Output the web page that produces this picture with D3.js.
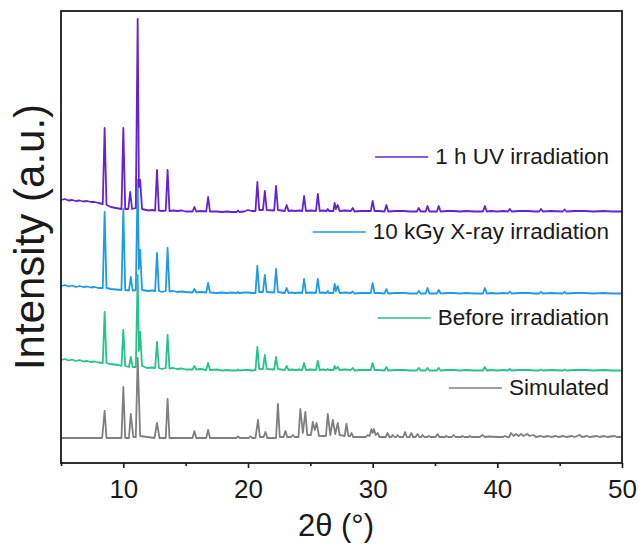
<!DOCTYPE html>
<html>
<head>
<meta charset="utf-8">
<script src="https://cdn.jsdelivr.net/npm/d3@7/dist/d3.min.js"></script>
<style>
  body { margin: 0; background: #fff; }
  svg { display: block; font-family: Arial, 'Liberation Sans', sans-serif; }
  .frame { fill: none; stroke: #1a1a1a; stroke-width: 1.8; }
  .axis path { display: none; }
  .axis line { stroke: #1a1a1a; stroke-width: 1.6; }
  .axis text { font-size: 26px; fill: #1a1a1a; font-family: Arial, 'Liberation Sans', sans-serif; }
  .trace { fill: none; stroke-width: 1.8; stroke-linejoin: round; }
  .legend-text { font-size: 22.5px; fill: #1a1a1a; }
  .axis-title { font-size: 31px; fill: #1a1a1a; }
  .axis-title-y { font-size: 42px; fill: #1a1a1a; }
</style>
</head>
<body>
<div id="chart"></div>
<script>
// series, bottom to top
const seriesNames = ['Simulated', 'Before irradiation', '10 kGy X-ray irradiation', '1 h UV irradiation']
const seriesColors = ['#7f7f7f', '#25c28c', '#1f9be6', '#6423d3']
const seriesOffsets = [25, 92, 169, 251]
const xTicksMajor = [10, 20, 30, 40, 50]
const xTicksMinor = [5, 15, 25, 35, 45]

// [2θ, intensity above the trace offset]
const simulated = [[5,0],[8.3,0],[8.5,27],[8.65,0],[9.85,0],[10.0,51],[10.15,0],[10.45,0],[10.6,24],[10.8,1],[11.0,1],[11.15,80],[11.35,2],[12.5,0],[12.7,15],[12.9,0],[13.4,0],[13.55,39],[13.7,0],[15.55,0],[15.7,7],[15.85,0],[16.65,0],[16.8,8],[16.95,0],[19.05,0],[19.2,1.5],[19.35,0],[20.05,0],[20.2,1.5],[20.35,0],[20.6,0],[20.8,18],[20.95,1],[21.25,1],[21.4,6],[21.55,0],[22.25,0],[22.4,34],[22.55,1],[22.85,1],[23.0,7],[23.15,1],[23.45,1],[23.6,3],[23.75,1],[24.05,1],[24.2,29],[24.4,5],[24.6,26],[24.75,3],[25.05,3],[25.2,16],[25.35,8],[25.5,15],[25.7,2],[26.25,2],[26.4,24],[26.6,3],[26.8,18],[27.0,4],[27.2,15],[27.35,3],[27.75,2],[27.9,14],[28.05,2],[28.2,2],[28.3,5],[28.45,1],[29.45,1],[29.6,3],[29.75,2],[29.9,9],[30.0,5],[30.1,9],[30.25,3],[30.4,5],[30.55,1],[31.05,1],[31.2,5],[31.35,1],[31.5,1],[31.6,3],[31.75,1],[31.9,1],[32.0,3],[32.15,1],[32.45,1],[32.6,6],[32.75,1],[32.95,1],[33.1,5],[33.25,1],[33.45,1],[33.6,4],[33.75,1],[33.9,1],[34.0,3],[34.15,1],[34.4,1],[34.5,2],[34.65,1],[35.05,1],[35.2,4],[35.35,1],[35.8,1],[35.9,2],[36.05,1],[36.35,1],[36.5,3],[36.65,1],[37.1,1],[37.2,2],[37.35,1],[37.7,1],[37.8,2],[37.95,1],[38.6,1],[38.8,3],[39.0,1],[39.3,1.5],[40.0,1],[40.45,1],[40.6,2],[40.8,1],[40.95,1],[41.1,5],[41.3,2],[41.5,4],[41.7,2],[41.9,4],[42.1,2],[42.4,4],[42.6,2],[42.9,3],[43.1,1],[43.5,2],[43.7,1],[44.1,2],[44.3,1],[44.7,2],[44.9,1],[45.3,2],[45.5,1],[46.0,2],[46.2,1],[46.6,3],[46.8,1],[47.2,2],[47.4,1],[48.0,2],[48.2,1],[48.6,2],[48.8,1],[49.4,2],[49.6,1],[50,1]]

const beforeIrr = [[5,11],[5.3,12],[5.6,10.5],[5.9,11.5],[6.2,10],[6.5,11],[6.8,9.5],[7.1,10],[7.4,9],[7.7,9.5],[8.0,8.5],[8.35,8],[8.5,59],[8.65,8],[8.9,7],[9.3,6.5],[9.6,6],[9.85,5],[10.0,41],[10.15,5],[10.45,4],[10.6,14],[10.75,4],[11.0,4],[11.15,96],[11.25,20],[11.35,39],[11.5,5],[11.9,3],[12.3,3.5],[12.55,3],[12.7,29],[12.85,3],[13.1,2],[13.4,3],[13.55,36],[13.7,2.5],[14.0,3],[14.3,2],[14.7,2.5],[15.0,1.5],[15.55,1.5],[15.7,5],[15.85,1.5],[16.2,2],[16.65,1],[16.8,8],[16.95,1],[17.5,1.5],[17.9,0.5],[18.3,1],[18.7,0.5],[19.1,0.5],[19.2,1.5],[19.3,0.5],[19.7,1],[20.0,1],[20.3,0.5],[20.6,1],[20.75,24],[20.9,2],[21.2,2],[21.35,16],[21.5,2],[22.1,1.5],[22.25,14],[22.4,2],[22.95,1],[23.1,5],[23.25,1],[23.5,1.5],[23.8,1],[24.1,1.5],[24.35,1],[24.5,8],[24.65,1],[25.0,1.5],[25.45,1],[25.6,10],[25.75,1],[26.0,1.5],[26.3,1],[26.4,2],[26.5,1],[26.85,1],[26.95,5],[27.05,2],[27.2,4],[27.35,1],[27.8,1.5],[28.25,1],[28.4,3],[28.55,0.5],[29.0,1],[29.5,1],[29.85,1],[30.0,8],[30.15,1],[30.5,1],[30.95,0.5],[31.1,4],[31.25,0.5],[31.8,1],[32.5,1],[33.0,0.5],[33.55,0.5],[33.7,3],[33.85,0.5],[34.25,0.5],[34.4,3],[34.55,0.5],[35.15,0.5],[35.3,3],[35.45,0.5],[36.0,1],[36.5,1],[37.0,0.5],[37.5,1],[38.2,0.5],[38.85,0.5],[39.0,4],[39.15,0.5],[39.5,1],[40,0.5],[40.5,1],[40.85,0.5],[41.0,2],[41.15,0.5],[41.8,1],[42.5,1],[43.0,0.5],[43.35,0.5],[43.5,1.5],[43.65,0.5],[44.3,1],[45.25,0.5],[45.4,1.5],[45.55,0.5],[46.2,1],[47,1],[47.7,0.5],[48.5,1],[49.2,0.5],[50,0.5]]

const xrayIrr = [[5,8],[5.3,9],[5.6,7.5],[5.9,8.5],[6.2,7],[6.5,8],[6.8,7],[7.1,7.5],[7.4,6.5],[7.7,7],[8.0,6],[8.35,6],[8.5,82],[8.65,6],[9.0,5],[9.4,4.5],[9.85,4],[10.0,85],[10.15,4],[10.45,3.5],[10.6,17],[10.75,3.5],[11.0,4],[11.15,114],[11.25,25],[11.35,44],[11.5,4],[12.0,3],[12.3,3.5],[12.55,3],[12.7,41],[12.85,3],[13.1,2],[13.4,3],[13.55,46],[13.7,2.5],[14.0,3],[14.3,2],[14.7,2.5],[15.0,2],[15.55,1.5],[15.7,5],[15.85,1.5],[16.2,2],[16.65,1.5],[16.8,11],[16.95,1.5],[17.5,1],[17.9,1.5],[18.3,1],[18.7,1.5],[19.1,1],[19.2,2],[19.3,1],[19.7,1.5],[20.0,1.5],[20.3,1],[20.6,1],[20.75,28],[20.9,2],[21.2,2],[21.35,19],[21.5,2],[22.1,1.5],[22.25,25],[22.4,2],[22.95,1],[23.1,6],[23.25,1],[23.5,1.5],[23.8,1],[24.1,1.5],[24.35,1],[24.5,15],[24.65,1],[25.0,1.5],[25.45,1],[25.6,15],[25.75,1],[26.0,1.5],[26.3,1],[26.4,3],[26.5,1],[26.85,1],[26.95,10],[27.05,3],[27.2,8],[27.35,1],[27.8,1.5],[28.25,1],[28.4,2.5],[28.55,0.5],[29.0,1],[29.5,1],[29.85,1],[30.0,11],[30.15,1],[30.5,1],[30.95,0.5],[31.1,5],[31.25,0.5],[31.8,1],[32.5,1],[33.0,0.5],[33.55,0.5],[33.7,3],[33.85,0.5],[34.25,0.5],[34.4,6],[34.55,0.5],[35.15,0.5],[35.3,4],[35.45,0.5],[36.0,1],[36.5,1],[37.0,0.5],[37.5,1],[38.2,0.5],[38.85,0.5],[39.0,6],[39.15,0.5],[39.5,1],[40,0.5],[40.5,1],[40.85,0.5],[41.0,2.5],[41.15,0.5],[41.8,1],[42.5,1],[43.0,0.5],[43.35,0.5],[43.5,2],[43.65,0.5],[44.3,1],[45.25,0.5],[45.4,2],[45.55,0.5],[46.2,1],[47,1],[47.7,0.5],[48.5,1],[49.2,0.5],[50,0.5]]

const uvIrr = [[5,12],[5.3,13],[5.6,11.5],[5.9,12],[6.2,11],[6.5,11.5],[6.8,10.5],[7.1,11],[7.4,10],[7.7,10],[8.0,9],[8.35,8],[8.5,84],[8.65,7],[9.0,5],[9.4,4],[9.85,3],[10.0,84],[10.15,3],[10.4,3],[10.55,20],[10.7,3],[11.0,4],[11.15,193],[11.25,25],[11.35,32],[11.5,3],[12.0,1.5],[12.3,2],[12.55,1.5],[12.7,42],[12.85,1.5],[13.1,1],[13.4,1.5],[13.55,42],[13.7,1],[14.0,1.5],[14.3,1],[14.7,1.5],[15.0,0.5],[15.55,0.5],[15.7,5],[15.85,0.5],[16.2,1],[16.65,0.5],[16.8,15],[16.95,0.5],[17.5,0.5],[17.9,0],[18.3,0.5],[18.7,0],[19.1,0],[19.2,1.5],[19.3,0],[19.7,0.5],[20.0,2],[20.3,1],[20.6,1],[20.75,30],[20.9,2],[21.2,2],[21.35,21],[21.5,2],[22.1,1.5],[22.25,26],[22.4,2],[22.95,1],[23.1,7],[23.25,1],[23.5,1.5],[23.8,1],[24.1,1.5],[24.35,1],[24.5,16],[24.65,1],[25.0,1.5],[25.45,1],[25.6,18],[25.75,1],[26.0,1.5],[26.3,1],[26.4,3],[26.5,1],[26.85,1],[26.95,9],[27.05,3],[27.2,7],[27.35,1],[27.8,1.5],[28.25,1],[28.4,4],[28.55,0.5],[29.0,1],[29.5,1],[29.85,1],[30.0,11],[30.15,1],[30.5,1],[30.95,0.5],[31.1,7],[31.25,0.5],[31.8,1],[32.5,1],[33.0,0.5],[33.55,0.5],[33.7,4],[33.85,0.5],[34.25,0.5],[34.4,6],[34.55,0.5],[35.15,0.5],[35.3,6],[35.45,0.5],[36.0,1],[36.5,1],[37.0,0.5],[37.5,1],[38.2,0.5],[38.85,0.5],[39.0,6],[39.15,0.5],[39.5,1],[40,0.5],[40.5,1],[40.85,0.5],[41.0,3],[41.15,0.5],[41.8,1],[42.5,1],[43.0,0.5],[43.35,0.5],[43.5,3],[43.65,0.5],[44.3,1],[45.25,0.5],[45.4,2.5],[45.55,0.5],[46.2,1],[47,1],[47.7,0.5],[48.5,1],[49.2,0.5],[50,0.5]]

const seriesData = [simulated, beforeIrr, xrayIrr, uvIrr]

const layout = { width: 640, height: 545, left: 61, right: 18, top: 11, bottom: 82 }
const innerW = layout.width - layout.left - layout.right
const innerH = layout.height - layout.top - layout.bottom

const xScale = d3.scaleLinear().domain([5, 50]).range([0, innerW])
const yScale = d3.scaleLinear().domain([0, 452]).range([innerH, 0])

const svg = d3.select('#chart').append('svg')
    .attr('width', layout.width)
    .attr('height', layout.height)

const g = svg.append('g')
    .attr('transform', 'translate(' + layout.left + ',' + layout.top + ')')

// traces, simulated first so UV sits on top
const line = d3.line()
    .x(d => xScale(d[0]))
    .y(d => yScale(d[1]))

seriesData.forEach((data, i) => {
    g.append('path')
        .datum(data.map(d => [d[0], d[1] + seriesOffsets[i]]))
        .attr('class', 'trace')
        .attr('stroke', seriesColors[i])
        .attr('stroke-width', i === 0 ? 1.5 : 1.8)
        .attr('d', line)
})

// frame
g.append('rect')
    .attr('class', 'frame')
    .attr('width', innerW)
    .attr('height', innerH)

// bottom axis, ticks outward
g.append('g')
    .attr('class', 'axis')
    .attr('transform', 'translate(0,' + innerH + ')')
    .call(d3.axisBottom(xScale).tickValues(xTicksMajor).tickSizeInner(5).tickSizeOuter(0).tickPadding(12).tickFormat(d3.format('d')))

g.append('g')
    .attr('class', 'axis')
    .attr('transform', 'translate(0,' + innerH + ')')
    .call(d3.axisBottom(xScale).tickValues(xTicksMinor).tickSizeInner(3).tickSizeOuter(0).tickFormat(''))

// axis titles
svg.append('text')
    .attr('class', 'axis-title')
    .attr('x', 336)
    .attr('y', 536)
    .attr('text-anchor', 'middle')
    .text('2θ (°)')

svg.append('text')
    .attr('class', 'axis-title-y')
    .attr('transform', 'translate(44,' + (layout.top + innerH / 2) + ') rotate(-90)')
    .attr('text-anchor', 'middle')
    .text('Intensity (a.u.)')

// legend, one label beside each trace, right-aligned
const legendY = [388, 318, 232, 157]
const legendRight = 609
seriesNames.forEach((name, i) => {
    const lg = svg.append('g').attr('transform', 'translate(0,' + legendY[i] + ')')
    const txt = lg.append('text')
        .attr('class', 'legend-text')
        .attr('x', legendRight)
        .attr('dy', '0.32em')
        .attr('text-anchor', 'end')
        .text(name)
    const tw = txt.node().getComputedTextLength()
    const x1 = legendRight - tw - 7
    lg.append('line')
        .attr('x1', x1 - 53).attr('x2', x1)
        .attr('y1', 0).attr('y2', 0)
        .attr('stroke', seriesColors[i])
        .attr('stroke-width', 1.6)
})
</script>
</body>
</html>
